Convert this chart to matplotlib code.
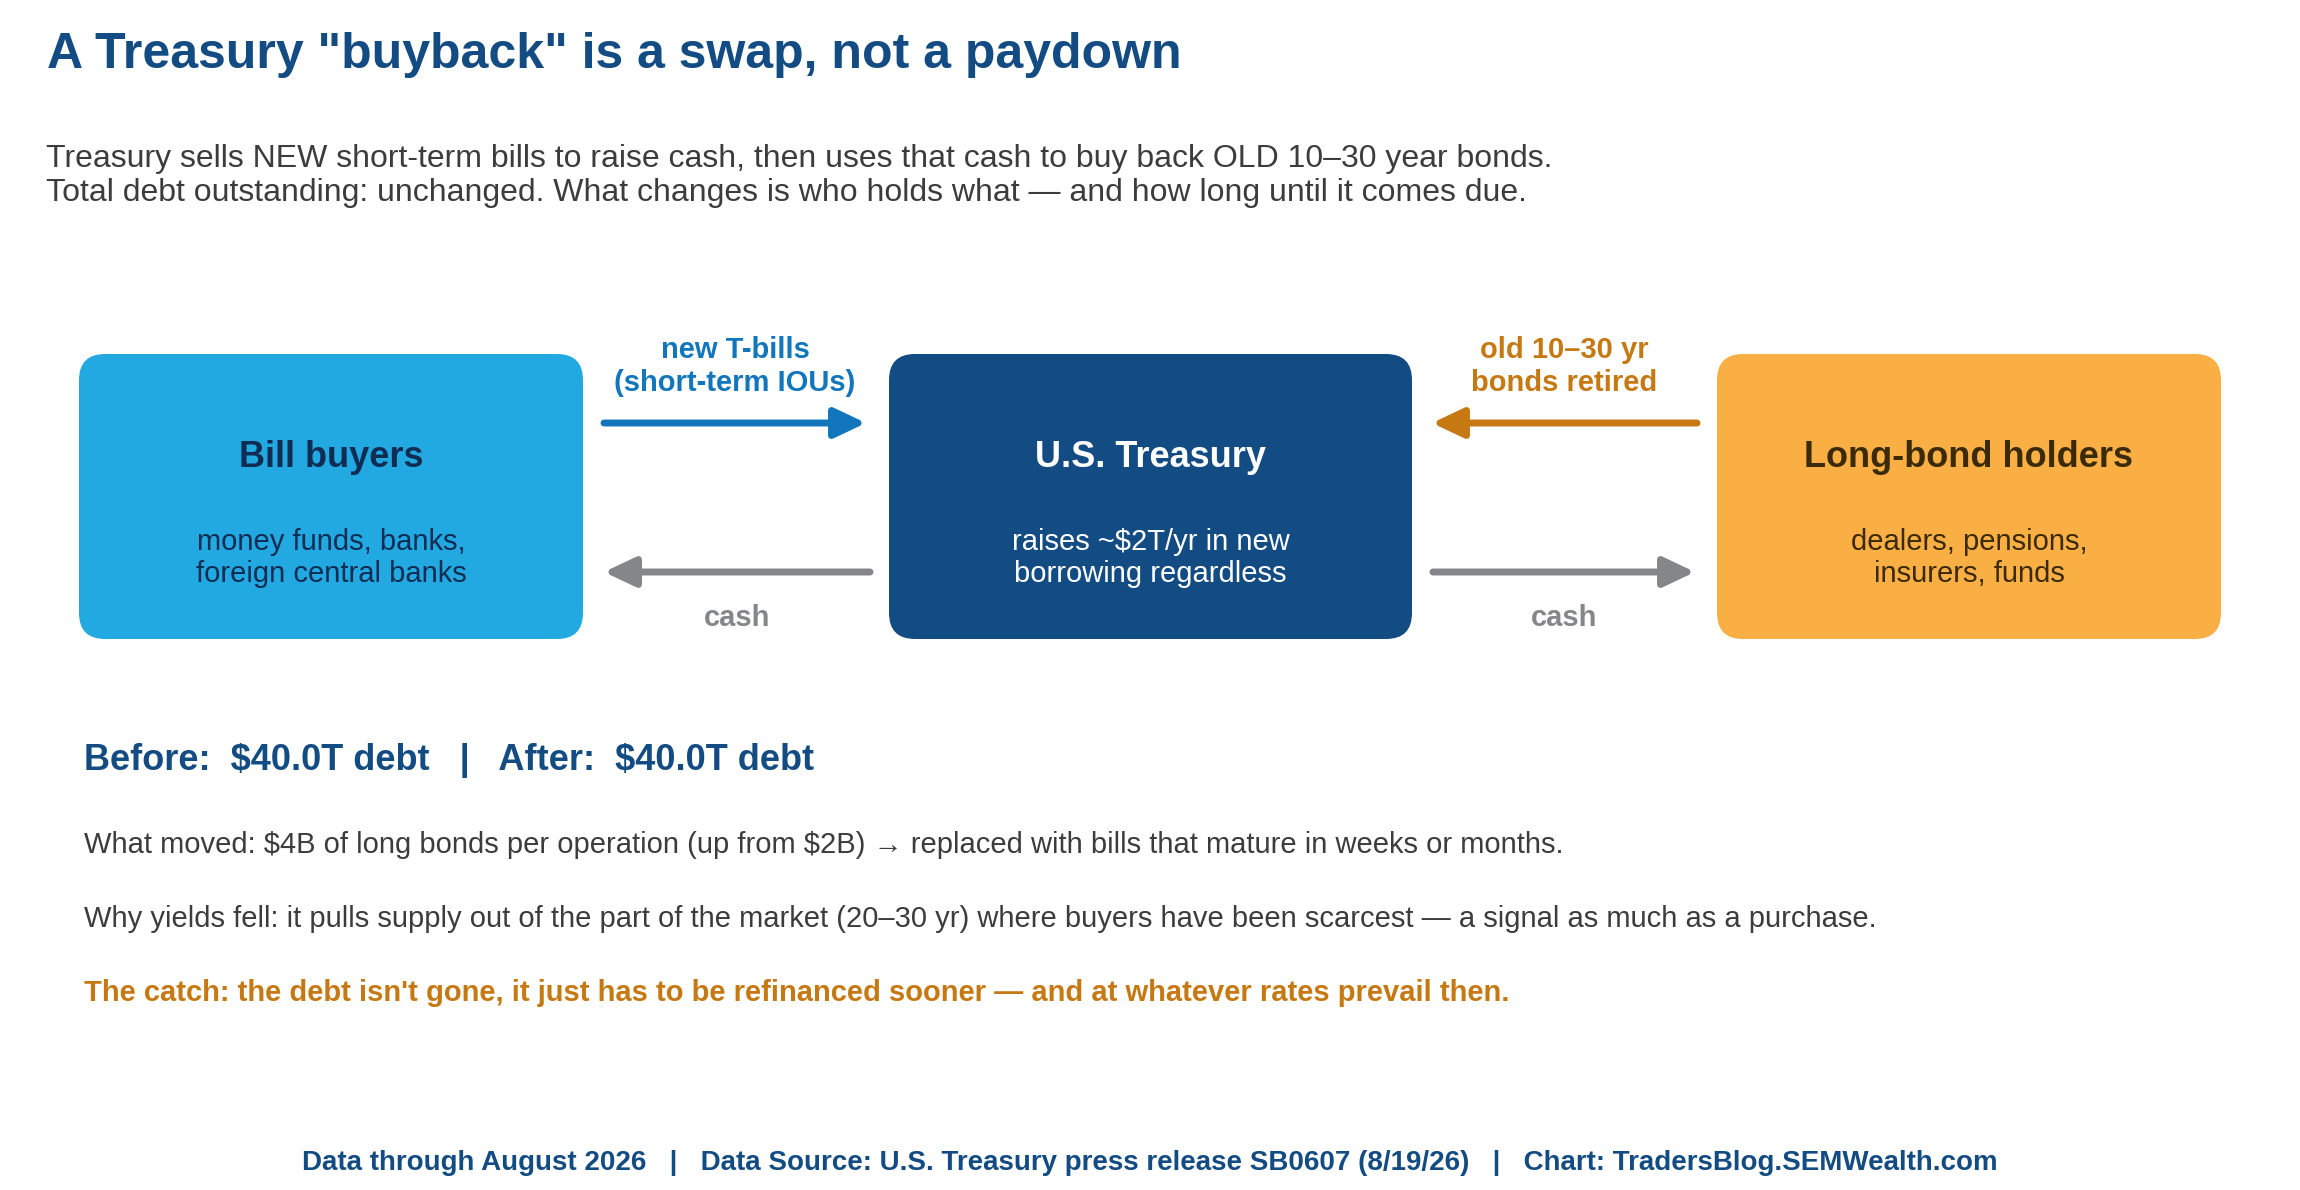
import matplotlib
matplotlib.use("Agg")
import matplotlib.pyplot as plt
from matplotlib.patches import FancyBboxPatch, FancyArrowPatch

plt.rcParams["font.family"] = ["Liberation Sans", "DejaVu Sans"]
plt.rcParams["text.parse_math"] = False

# --- content -------------------------------------------------------------
title = 'A Treasury "buyback" is a swap, not a paydown'
subtitle = [
    "Treasury sells NEW short-term bills to raise cash, then uses that cash to buy back OLD 10–30 year bonds.",
    "Total debt outstanding: unchanged. What changes is who holds what — and how long until it comes due.",
]

box_titles = ["Bill buyers", "U.S. Treasury", "Long-bond holders"]
box_details = [
    ["money funds, banks,", "foreign central banks"],
    ["raises ~$2T/yr in new", "borrowing regardless"],
    ["dealers, pensions,", "insurers, funds"],
]
box_colors = ["#22A9E1", "#134B83", "#F9AF43"]
box_text_colors = ["#0F2D52", "#FFFFFF", "#3A2A08"]

top_labels = [["new T-bills", "(short-term IOUs)"], ["old 10–30 yr", "bonds retired"]]
top_colors = ["#1176BC", "#C67913"]
bottom_labels = ["cash", "cash"]

debt_before = 40.0   # $T
debt_after = 40.0    # $T
buyback_now = 4      # $B per operation
buyback_prev = 2

notes = [
    f"What moved: ${buyback_now}B of long bonds per operation (up from ${buyback_prev}B) → replaced with bills that mature in weeks or months.",
    "Why yields fell: it pulls supply out of the part of the market (20–30 yr) where buyers have been scarcest — a signal as much as a purchase.",
]
catch = "The catch: the debt isn't gone, it just has to be refinanced sooner — and at whatever rates prevail then."
footer = ("Data through August 2026   |   Data Source: U.S. Treasury press release SB0607 (8/19/26)"
          "   |   Chart: TradersBlog.SEMWealth.com")

NAVY = "#134B83"
GRAY = "#85868A"
TEXT = "#3C3C3C"
ORANGE = "#C67913"

# --- figure (pixel coordinates) -----------------------------------------
fig = plt.figure(figsize=(23, 11.9), dpi=100)
ax = fig.add_axes([0, 0, 1, 1])
ax.set_xlim(0, 2300)
ax.set_ylim(1190, 0)
ax.axis("off")

ax.text(47, 68, title, fontsize=36, fontweight="bold", color=NAVY, va="baseline")
for i, line in enumerate(subtitle):
    ax.text(46, 167 + 34 * i, line, fontsize=23, color=TEXT, va="baseline")

# boxes
box_x = [79, 889, 1717]
box_w = [504, 523, 504]
box_top, box_h = 354, 285
for x, w, name, det, fc, tc in zip(box_x, box_w, box_titles, box_details, box_colors, box_text_colors):
    ax.add_patch(FancyBboxPatch((x, box_top), w, box_h,
                                boxstyle="round,pad=0,rounding_size=26",
                                fc=fc, ec="none"))
    cx = x + w / 2
    ax.text(cx, 467, name, fontsize=26, fontweight="bold", color=tc,
            ha="center", va="baseline")
    for j, line in enumerate(det):
        ax.text(cx, 550 + 32 * j, line, fontsize=21, color=tc,
                ha="center", va="baseline")


def arrow(x0, x1, y, color):
    ax.add_patch(FancyArrowPatch((x0, y), (x1, y),
                                 arrowstyle="-|>,head_length=0.95,head_width=0.45",
                                 mutation_scale=20, lw=5, color=color,
                                 capstyle="round", joinstyle="round",
                                 shrinkA=0, shrinkB=0))


# top flows (securities) and bottom flows (cash)
top_arrows = [(604, 866), (1697, 1432)]
bottom_arrows = [(870, 604), (1433, 1695)]
for (x0, x1), lab, col in zip(top_arrows, top_labels, top_colors):
    arrow(x0, x1, 423, col)
    cx = (x0 + x1) / 2
    for j, line in enumerate(lab):
        ax.text(cx, 358 + 33 * j, line, fontsize=21, fontweight="bold",
                color=col, ha="center", va="baseline")
for (x0, x1), lab in zip(bottom_arrows, bottom_labels):
    arrow(x0, x1, 572, GRAY)
    ax.text((x0 + x1) / 2, 626, lab, fontsize=21, fontweight="bold",
            color=GRAY, ha="center", va="baseline")

ax.text(84, 770, f"Before:  ${debt_before:.1f}T debt   |   After:  ${debt_after:.1f}T debt",
        fontsize=26, fontweight="bold", color=NAVY, va="baseline")
for i, line in enumerate(notes):
    ax.text(84, 853 + 74 * i, line, fontsize=21, color=TEXT, va="baseline")
ax.text(84, 1001, catch, fontsize=21, fontweight="bold", color=ORANGE, va="baseline")

ax.text(1150, 1170, footer, fontsize=20, fontweight="bold", color=NAVY,
        ha="center", va="baseline")

fig.savefig("out.png", dpi=100, facecolor="white")
